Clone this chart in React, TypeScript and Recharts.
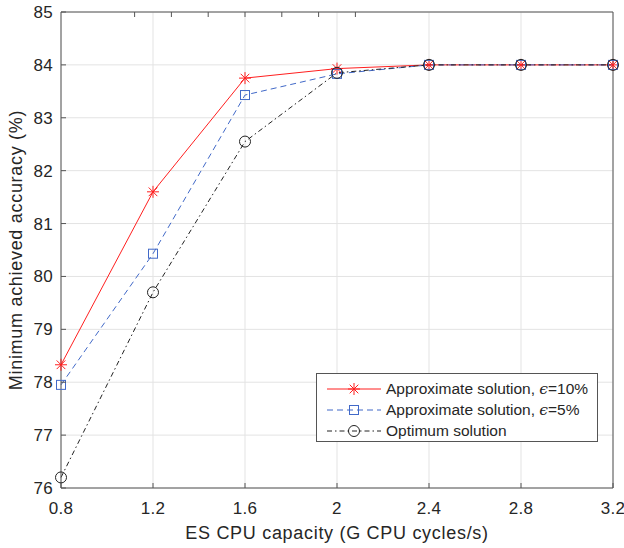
import React from 'react';
import {
  LineChart, Line, XAxis, YAxis, CartesianGrid, Legend
} from 'recharts';

const capacity = [0.8, 1.2, 1.6, 2.0, 2.4, 2.8, 3.2];
const approx10 = [78.33, 81.6, 83.75, 83.93, 84.0, 84.0, 84.0];
const approx5 = [77.95, 80.43, 83.43, 83.83, 84.0, 84.0, 84.0];
const optimum = [76.2, 79.7, 82.55, 83.85, 84.0, 84.0, 84.0];

const xTicks = [0.8, 1.2, 1.6, 2, 2.4, 2.8, 3.2];
const yTicks = [76, 77, 78, 79, 80, 81, 82, 83, 84, 85];

const data = capacity.map((c, i) => ({
  c, a10: approx10[i], a5: approx5[i], opt: optimum[i],
}));

const FONT = '"Liberation Sans", Arial, sans-serif';
const AXIS = '#555';
const TEXT = '#262626';
const RED = '#ff1f1f';
const BLUE = '#4169c8';
const BLACK = '#222';

const Star = ({ cx, cy, color = RED }: any) => {
  if (cx == null || cy == null) return null;
  const r = 6;
  const d = r * 0.72;
  return (
    <g stroke={color} strokeWidth={1}>
      <line x1={cx - r} y1={cy} x2={cx + r} y2={cy} />
      <line x1={cx} y1={cy - r} x2={cx} y2={cy + r} />
      <line x1={cx - d} y1={cy - d} x2={cx + d} y2={cy + d} />
      <line x1={cx - d} y1={cy + d} x2={cx + d} y2={cy - d} />
    </g>
  );
};

const Square = ({ cx, cy, color = BLUE }: any) => {
  if (cx == null || cy == null) return null;
  return <rect x={cx - 4.5} y={cy - 4.5} width={9} height={9} fill="none" stroke={color} strokeWidth={1} />;
};

const Circle = ({ cx, cy, color = BLACK }: any) => {
  if (cx == null || cy == null) return null;
  return <circle cx={cx} cy={cy} r={5.5} fill="none" stroke={color} strokeWidth={1} />;
};

const BottomTick = ({ x, y, payload }: any) => (
  <g>
    <line x1={x} y1={y} x2={x} y2={y - 5} stroke={AXIS} />
    <text x={x} y={y + 26} textAnchor="middle" fontSize={17} letterSpacing={0.3} fill={TEXT} fontFamily={FONT}>
      {payload.value}
    </text>
  </g>
);

const LeftTick = ({ x, y, payload }: any) => (
  <g>
    <line x1={x} y1={y} x2={x + 5} y2={y} stroke={AXIS} />
    <text x={x - 8} y={y + 6} textAnchor="end" fontSize={17} letterSpacing={0.3} fill={TEXT} fontFamily={FONT}>
      {payload.value}
    </text>
  </g>
);

const TopTick = ({ x, y }: any) => <line x1={x} y1={y} x2={x} y2={y + 5} stroke={AXIS} />;
const RightTick = ({ x, y }: any) => <line x1={x} y1={y} x2={x - 5} y2={y} stroke={AXIS} />;

const legendItems = [
  { label: 'Approximate solution, ', pct: '=10%', color: RED, dash: undefined, Marker: Star },
  { label: 'Approximate solution, ', pct: '=5%', color: BLUE, dash: '6 4', Marker: Square },
  { label: 'Optimum solution', pct: null, color: BLACK, dash: '5 3 1.5 3', Marker: Circle },
];

const LegendBox = () => (
  <div style={{ border: '1px solid #555', background: '#fff', width: 282, height: 69, boxSizing: 'border-box' }}>
    <svg width={280} height={67}>
      {legendItems.map((it, i) => {
        const cy = 15 + i * 21;
        const M = it.Marker;
        return (
          <g key={i}>
            <line x1={10} y1={cy} x2={64} y2={cy} stroke={it.color} strokeWidth={1} strokeDasharray={it.dash} />
            <M cx={37} cy={cy} color={it.color} />
            <text x={69} y={cy + 5} fontSize={15.5} fill={TEXT} fontFamily={FONT}>
              {it.label}
              {it.pct !== null && <tspan fontStyle="italic" fontFamily="'DejaVu Serif', serif">ϵ</tspan>}
              {it.pct}
            </text>
          </g>
        );
      })}
    </svg>
  </div>
);

export default function App() {
  return (
    <div style={{ position: 'absolute', left: 0, top: 0, width: 624, height: 548, background: '#fff' }}>
      <LineChart width={624} height={548} data={data} margin={{ top: 0, right: 0, bottom: 0, left: 0 }}>
        <CartesianGrid stroke="#e3e3e3" strokeWidth={1} />
        <XAxis
          dataKey="c" type="number" domain={[0.8, 3.2]} ticks={xTicks}
          height={60} tickSize={0} tickMargin={0} tickLine={false}
          stroke={AXIS} tick={<BottomTick />} interval={0}
          label={{ value: 'ES CPU capacity (G CPU cycles/s)', position: 'insideBottom', offset: 9, fontSize: 18, letterSpacing: 0.7, fill: TEXT, fontFamily: FONT }}
        />
        <XAxis
          xAxisId="top" orientation="top" type="number" domain={[0.8, 3.2]} ticks={xTicks}
          height={12} tickSize={0} tickMargin={0} tickLine={false} stroke={AXIS} tick={<TopTick />} interval={0}
        />
        <YAxis
          type="number" domain={[76, 85]} ticks={yTicks} width={61}
          tickSize={0} tickMargin={0} tickLine={false} stroke={AXIS} tick={<LeftTick />} interval={0}
          label={{ value: 'Minimum achieved accuracy (%)', angle: -90, position: 'insideLeft', offset: 16, style: { textAnchor: 'middle' }, fontSize: 18, letterSpacing: 0.7, fill: TEXT, fontFamily: FONT }}
        />
        <YAxis
          yAxisId="right" orientation="right" type="number" domain={[76, 85]} ticks={yTicks} width={11}
          tickSize={0} tickMargin={0} tickLine={false} stroke={AXIS} tick={<RightTick />} interval={0}
        />
        <Line dataKey="a10" stroke={RED} strokeWidth={1} dot={<Star />} activeDot={false} isAnimationActive={false} />
        <Line dataKey="a5" stroke={BLUE} strokeWidth={1} strokeDasharray="6 4" dot={<Square />} activeDot={false} isAnimationActive={false} />
        <Line dataKey="opt" stroke={BLACK} strokeWidth={1} strokeDasharray="5 3 1.5 3" dot={<Circle />} activeDot={false} isAnimationActive={false} />
        <Legend
          layout="vertical" align="center" verticalAlign="middle"
          wrapperStyle={{ position: 'absolute', left: 316, top: 373, width: 282 }}
          content={() => <LegendBox />}
        />
      </LineChart>
    </div>
  );
}
